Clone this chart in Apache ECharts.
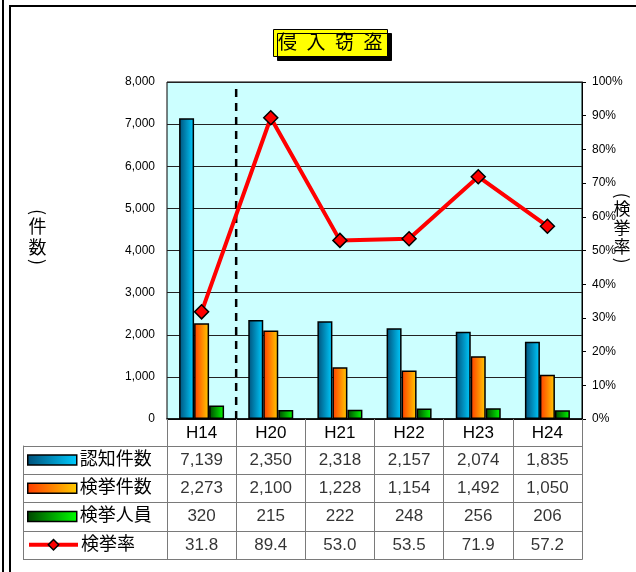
<!DOCTYPE html>
<html>
<head>
<meta charset="utf-8">
<script src="https://cdn.jsdelivr.net/npm/echarts@6/dist/echarts.min.js"></script>
<style>
html,body{margin:0;padding:0;background:#fff;}
#chart{width:636px;height:572px;}
</style>
</head>
<body>
<div id="chart"></div>
<script>
// ---- data ----
const categories = ['H14', 'H20', 'H21', 'H22', 'H23', 'H24'];
const seriesNames = ['認知件数', '検挙件数', '検挙人員', '検挙率'];
const ninchiKensu = [7139, 2350, 2318, 2157, 2074, 1835];
const kenkyoKensu = [2273, 2100, 1228, 1154, 1492, 1050];
const kenkyoJinin = [320, 215, 222, 248, 256, 206];
const kenkyoRitsu = [31.8, 89.4, 53.0, 53.5, 71.9, 57.2];
const leftAxis = { min: 0, max: 8000, interval: 1000 };
const rightAxis = { min: 0, max: 100, interval: 10 };
const separatorX = [1, 1];      // boundary between H14 and H20 (in category units)
const separatorY = [0, 7880];
const titleText = '侵入窃盗';
const leftAxisName = ['件', '数'];
const rightAxisName = ['検', '挙', '率'];

// ---- helpers ----
const FONT = "'Liberation Sans', 'Noto Sans CJK JP', sans-serif";
const CJK = "'Noto Sans CJK JP', sans-serif";
const fmtInt = v => v.toLocaleString('en-US');
const grad = (a, b) => new echarts.graphic.LinearGradient(0, 0, 1, 0, [
  { offset: 0, color: a }, { offset: 1, color: b }
]);
const barColors = [grad('#00507a', '#00ccff'), grad('#ff3c00', '#ffcc00'), grad('#004400', '#00ff00')];

const tableRows = [
  ninchiKensu.map(fmtInt),
  kenkyoKensu.map(fmtInt),
  kenkyoJinin.map(fmtInt),
  kenkyoRitsu.map(v => v.toFixed(1))
];
const tableData = [];
tableRows.forEach((row, r) => row.forEach((txt, c) => tableData.push([c, r, txt])));

const GRAY = '#7a7a7a';
const rowTop = 446, rowH = 28.25;

const legends = seriesNames.map((name, r) => ({
  data: [r < 3 ? { name, icon: 'rect' } : { name }],
  left: 27, top: rowTop + r * rowH + 5, padding: 0,
  itemWidth: 49, itemHeight: r < 3 ? 10 : 13,
  selectedMode: false,
  textStyle: { fontSize: 18, color: '#000', fontFamily: FONT, padding: [0, 0, 0, -2] },
  itemStyle: r < 3 ? { borderColor: '#000', borderWidth: 1.5 } : { color: '#ff0000', borderColor: '#000', borderWidth: 1.5 },
  lineStyle: r < 3 ? {} : { color: '#ff0000', width: 4 }
}));

const barSeries = [ninchiKensu, kenkyoKensu, kenkyoJinin].map((arr, i) => ({
  name: seriesNames[i], type: 'bar', xAxisIndex: 0, yAxisIndex: 0,
  data: arr, barWidth: 15, barGap: '0%',
  itemStyle: { color: barColors[i], borderColor: '#000', borderWidth: 1.5 },
  z: 2
}));

// vertical axis-name text (Excel style: stacked characters, parentheses turned sideways)
function verticalName(chars, cx, cy, size, lh) {
  const half = chars.length * lh / 2;
  const txt = (t, x, y, rot) => ({
    type: 'text', x, y, rotation: rot, z: 10,
    style: { text: t, font: `${size}px ${CJK}`, fill: '#000', align: 'center', verticalAlign: 'middle' }
  });
  return [
    txt(chars.join('\n'), cx, cy, 0),
    txt('(', cx, cy - half - 4, -Math.PI / 2),
    txt(')', cx, cy + half + 4, -Math.PI / 2)
  ].map(e => (e.style.lineHeight = lh, e));
}

const option = {
  backgroundColor: '#fff',
  animation: false,
  textStyle: { fontFamily: FONT },
  title: {
    text: titleText.split('').join('\u2002'),
    left: 273, top: 29,
    padding: [5, 5, 4, 5],
    backgroundColor: '#ffff00', borderColor: '#000', borderWidth: 1,
    shadowColor: '#000', shadowBlur: 0, shadowOffsetX: 4, shadowOffsetY: 4,
    textStyle: { fontSize: 19, fontWeight: 'normal', color: '#000', fontFamily: FONT }
  },
  legend: legends,
  graphic: [
    { type: 'line', shape: { x1: 3, y1: 0, x2: 3, y2: 572 }, style: { stroke: '#000', lineWidth: 2 } },
    { type: 'polyline', shape: { points: [[10, 572], [10, 6], [636, 6]] }, style: { stroke: '#000', lineWidth: 2, fill: null } },
    ...verticalName(leftAxisName, 37.5, 237, 18, 21),
    ...verticalName(rightAxisName, 622, 228, 17, 19)
  ],
  grid: [
    { left: 167, right: 54, top: 82, height: 337, show: true, backgroundColor: '#ccffff', borderColor: '#000', borderWidth: 1,
      containLabel: false, outerBoundsMode: 'none' },
    { left: 167, right: 54, top: rowTop, height: rowH * 4, containLabel: false, outerBoundsMode: 'none' }
  ],
  xAxis: [
    { gridIndex: 0, type: 'category', data: categories,
      axisLine: { lineStyle: { color: '#000', width: 1.5 } },
      axisTick: { show: true, length: 27, interval: 0, lineStyle: { color: GRAY } },
      axisLabel: { fontSize: 17, color: '#000', margin: 6, fontFamily: FONT, interval: 0 } },
    { gridIndex: 0, type: 'value', min: 0, max: 6, show: false },
    { gridIndex: 1, type: 'category', data: categories, position: 'bottom',
      axisLine: { lineStyle: { color: GRAY } }, axisTick: { show: false }, axisLabel: { show: false },
      splitLine: { show: true, interval: 0, lineStyle: { color: GRAY } } },
    { gridIndex: 1, type: 'category', data: categories, position: 'top',
      axisLine: { lineStyle: { color: GRAY } }, axisTick: { show: false }, axisLabel: { show: false } }
  ],
  yAxis: [
    { gridIndex: 0, type: 'value', min: leftAxis.min, max: leftAxis.max, interval: leftAxis.interval,
      axisLine: { show: false }, axisTick: { show: false },
      axisLabel: { fontSize: 12, color: '#000', margin: 12, formatter: v => fmtInt(v), fontFamily: FONT },
      splitLine: { lineStyle: { color: '#222', width: 1 } } },
    { gridIndex: 0, type: 'value', min: rightAxis.min, max: rightAxis.max, interval: rightAxis.interval, position: 'right',
      axisLine: { show: true, lineStyle: { color: '#000' } },
      axisTick: { show: true, inside: false, length: 4, lineStyle: { color: '#000' } },
      axisLabel: { fontSize: 12, color: '#000', margin: 10, formatter: '{value}%', fontFamily: FONT },
      splitLine: { show: false } },
    { gridIndex: 1, type: 'category', data: seriesNames, inverse: true,
      axisLine: { lineStyle: { color: GRAY } },
      axisTick: { show: true, length: 144, interval: 0, lineStyle: { color: GRAY } },
      axisLabel: { show: false },
      splitLine: { show: true, interval: 0, lineStyle: { color: GRAY } } },
    { gridIndex: 1, type: 'value', min: 0, max: 1, position: 'left', offset: 144,
      axisLine: { show: true, lineStyle: { color: GRAY } }, axisTick: { show: false }, axisLabel: { show: false }, splitLine: { show: false } },
    { gridIndex: 1, type: 'value', min: 0, max: 1, position: 'right',
      axisLine: { show: true, lineStyle: { color: GRAY } }, axisTick: { show: false }, axisLabel: { show: false }, splitLine: { show: false } }
  ],
  series: [
    ...barSeries,
    { name: 'separator', type: 'line', xAxisIndex: 1, yAxisIndex: 0,
      data: separatorX.map((x, i) => [x, separatorY[i]]), symbol: 'none', silent: true,
      lineStyle: { color: '#000', width: 2.5, type: [8, 6] }, z: 3 },
    { name: seriesNames[3], type: 'line', xAxisIndex: 0, yAxisIndex: 1, data: kenkyoRitsu,
      symbol: 'diamond', symbolSize: 14,
      lineStyle: { color: '#ff0000', width: 4 },
      itemStyle: { color: '#ff0000', borderColor: '#000', borderWidth: 1.5 }, z: 5 },
    { name: 'table', type: 'scatter', xAxisIndex: 2, yAxisIndex: 2, data: tableData,
      symbol: 'rect', symbolSize: 1, itemStyle: { color: 'rgba(0,0,0,0)' }, silent: true,
      label: { show: true, position: 'inside', formatter: p => p.data[2], fontSize: 17, color: '#000', fontFamily: FONT } }
  ]
};

const chart = echarts.init(document.getElementById('chart'), null, { renderer: 'canvas' });
chart.setOption(option);
</script>
</body>
</html>
